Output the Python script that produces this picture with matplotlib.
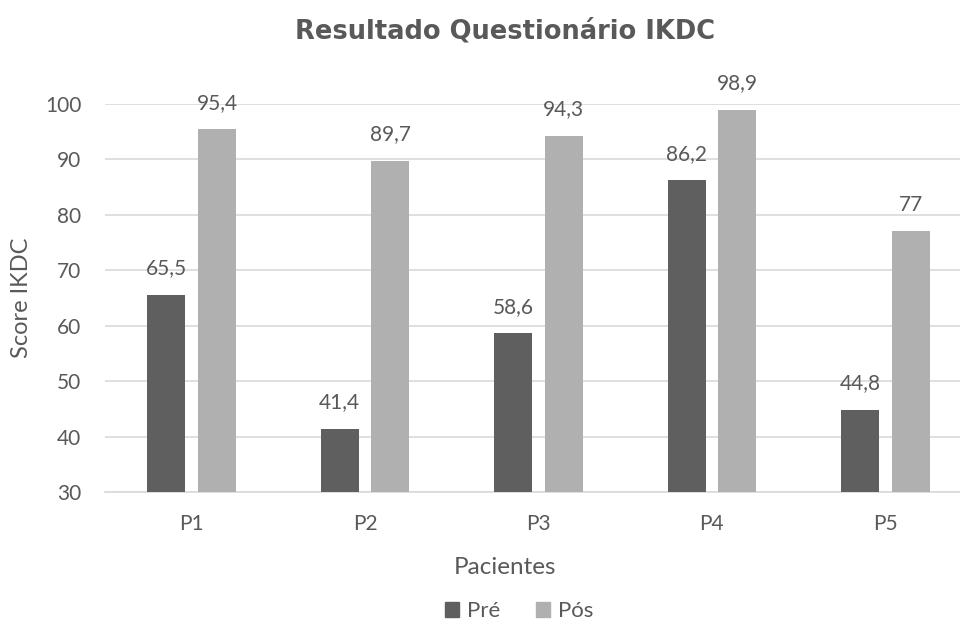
import matplotlib
matplotlib.use("Agg")
import matplotlib.pyplot as plt
import numpy as np
from matplotlib.patches import Patch

categories = ["P1", "P2", "P3", "P4", "P5"]
pre = [65.5, 41.4, 58.6, 86.2, 44.8]
pos = [95.4, 89.7, 94.3, 98.9, 77]
pre_labels = ["65,5", "41,4", "58,6", "86,2", "44,8"]
pos_labels = ["95,4", "89,7", "94,3", "98,9", "77"]

text_color = "#595959"
pre_color = "#5f5f5f"
pos_color = "#b0b0b0"
grid_color = "#d9d9d9"
body_font = ["Lato", "DejaVu Sans"]

fig = plt.figure(figsize=(9.6, 6.24), dpi=100)
ax = fig.add_axes([105 / 960, 1 - 492 / 624, 867 / 960, 388 / 624])

x = np.arange(len(categories))
width = 0.22
offset = 0.146
b1 = ax.bar(x - offset, pre, width, color=pre_color, zorder=3)
b2 = ax.bar(x + offset, pos, width, color=pos_color, zorder=3)

for bars, labels in ((b1, pre_labels), (b2, pos_labels)):
    for rect, lab in zip(bars, labels):
        ax.annotate(lab, (rect.get_x() + rect.get_width() / 2, rect.get_height()),
                    xytext=(0, 12), textcoords="offset points", ha="center", va="bottom",
                    fontsize=15, color=text_color, family=body_font)

ax.set_xlim(-0.5, len(categories) - 0.5)
ax.set_ylim(30, 100)
ax.set_yticks(np.arange(30, 101, 10))
ax.set_xticks(x)
ax.set_xticklabels(categories)
ax.yaxis.grid(True, color=grid_color, linewidth=1.2, zorder=0)
ax.set_axisbelow(True)
for side in ["top", "right", "left"]:
    ax.spines[side].set_visible(False)
ax.spines["bottom"].set_color(grid_color)
ax.spines["bottom"].set_linewidth(1.2)
ax.tick_params(axis="both", length=0, labelsize=15, labelcolor=text_color)
ax.tick_params(axis="x", pad=16)
ax.tick_params(axis="y", pad=17)
for lab in ax.get_xticklabels() + ax.get_yticklabels():
    lab.set_family(body_font)

cx = 505 / 960
fig.text(cx, 1 - 31 / 624, "Resultado Questionário IKDC", ha="center", va="center",
         fontsize=18.5, fontweight="bold", color=text_color, family=["DejaVu Sans"])
fig.text(cx, 1 - 568 / 624, "Pacientes", ha="center", va="center",
         fontsize=17.5, color=text_color, family=body_font)
fig.text(22 / 960, 1 - 298 / 624, "Score IKDC", ha="center", va="center", rotation=90,
         fontsize=17, color=text_color, family=body_font)

handles = [Patch(color=pre_color, label="Pré"), Patch(color=pos_color, label="Pós")]
fig.legend(handles=handles, loc="center", bbox_to_anchor=(519 / 960, 1 - 611 / 624), ncol=2,
           frameon=False, handlelength=0.65, handleheight=0.65, handletextpad=0.35,
           columnspacing=1.6, prop={"family": body_font, "size": 16},
           labelcolor=text_color)

fig.savefig("out.png", dpi=100)
